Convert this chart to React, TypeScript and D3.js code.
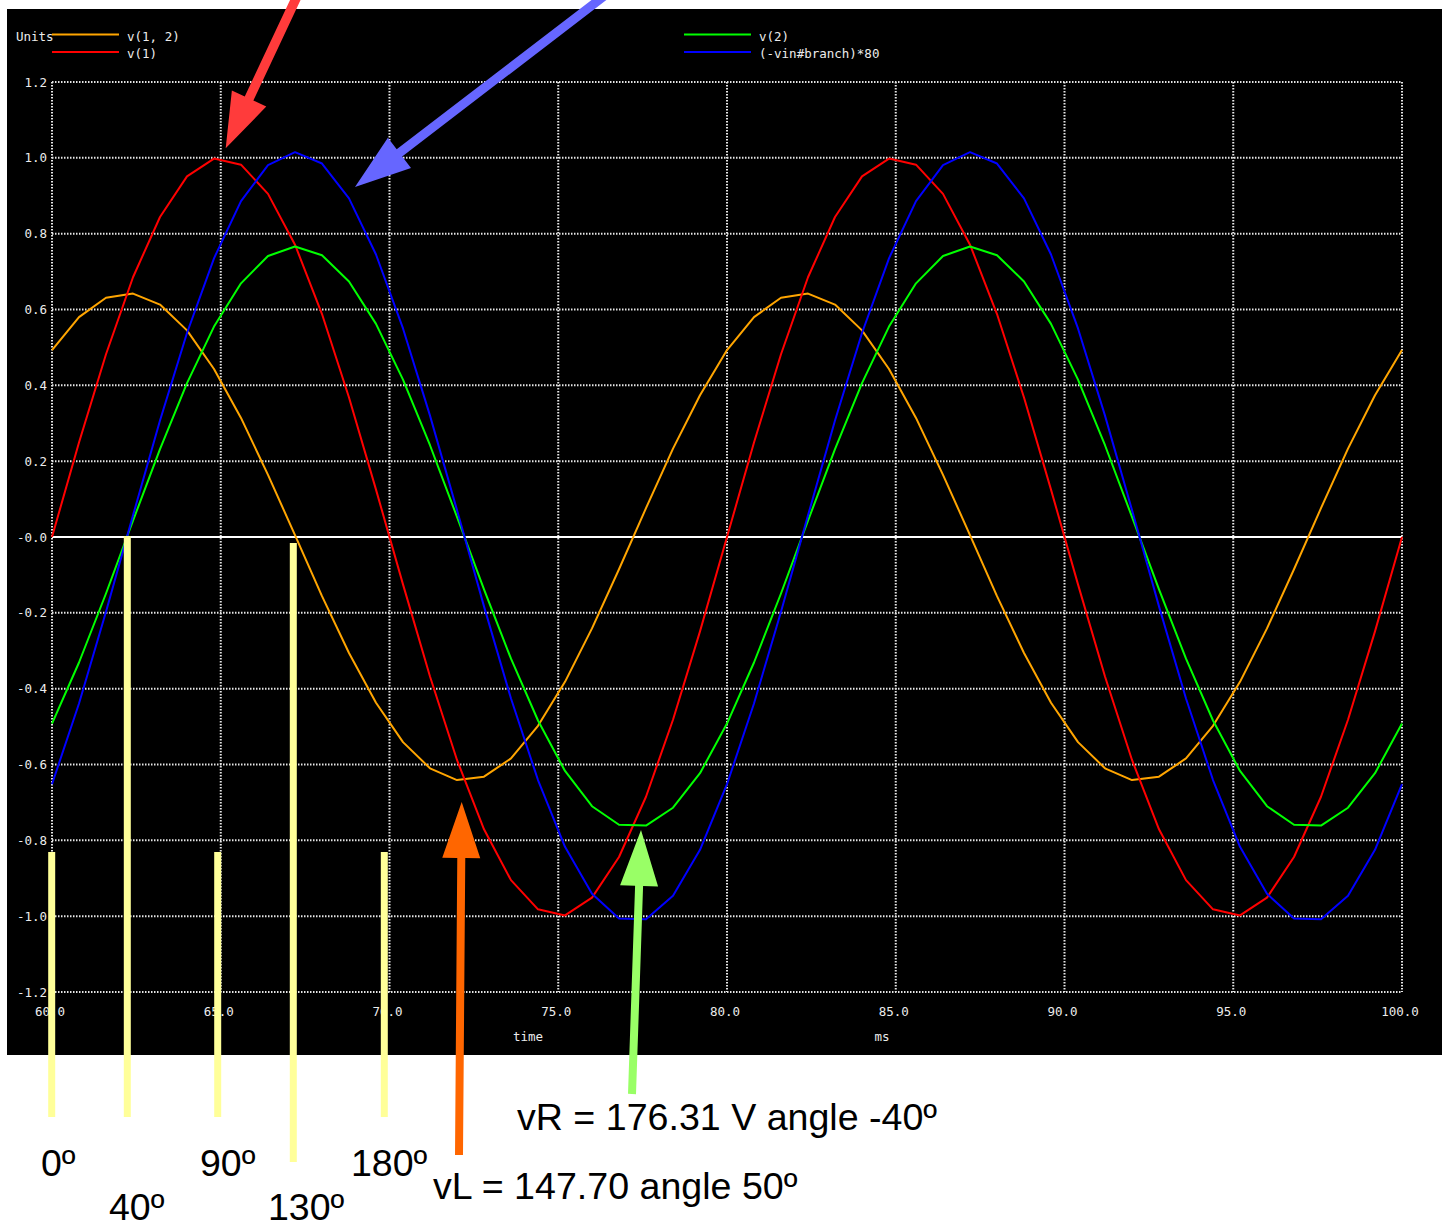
import React from 'react';
import * as d3 from 'd3';

// ---------- data ----------
const timeMs = [
  60.0, 60.8, 61.6, 62.4, 63.2, 64.0, 64.8, 65.6, 66.4, 67.2, 68.0, 68.8, 69.6, 70.4, 71.2, 72.0, 72.8,
  73.6, 74.4, 75.2, 76.0, 76.8, 77.6, 78.4, 79.2, 80.0, 80.8, 81.6, 82.4, 83.2, 84.0, 84.8, 85.6,
  86.4, 87.2, 88.0, 88.8, 89.6, 90.4, 91.2, 92.0, 92.8, 93.6, 94.4, 95.2, 96.0, 96.8, 97.6, 98.4,
  99.2, 100.0,
];

const v12 = [
  0.493, 0.580, 0.631, 0.642, 0.613, 0.545, 0.443, 0.314, 0.164, 0.005, -0.156, -0.306, -0.437,
  -0.541, -0.610, -0.641, -0.632, -0.584, -0.498, -0.382, -0.241, -0.085, 0.076, 0.233, 0.374,
  0.493, 0.580, 0.631, 0.642, 0.613, 0.545, 0.443, 0.314, 0.164, 0.005, -0.156, -0.306, -0.437,
  -0.541, -0.610, -0.641, -0.632, -0.584, -0.498, -0.382, -0.241, -0.085, 0.076, 0.233, 0.374,
  0.493,
];

const v1 = [
  0.0, 0.249, 0.482, 0.685, 0.844, 0.951, 0.998, 0.982, 0.905, 0.771, 0.588, 0.368, 0.125,
  -0.125, -0.368, -0.588, -0.771, -0.905, -0.982, -0.998, -0.951, -0.844, -0.685, -0.482, -0.249,
  0.0, 0.249, 0.482, 0.685, 0.844, 0.951, 0.998, 0.982, 0.905, 0.771, 0.588, 0.368, 0.125,
  -0.125, -0.368, -0.588, -0.771, -0.905, -0.982, -0.998, -0.951, -0.844, -0.685, -0.482, -0.249,
  0.0,
];

const v2 = [
  -0.492, -0.331, -0.149, 0.043, 0.232, 0.406, 0.555, 0.669, 0.741, 0.766, 0.743, 0.674, 0.562,
  0.415, 0.242, 0.053, -0.138, -0.321, -0.484, -0.617, -0.710, -0.759, -0.761, -0.714, -0.623,
  -0.492, -0.331, -0.149, 0.043, 0.232, 0.406, 0.555, 0.669, 0.741, 0.766, 0.743, 0.674, 0.562,
  0.415, 0.242, 0.053, -0.138, -0.321, -0.484, -0.617, -0.710, -0.759, -0.761, -0.714, -0.623,
  -0.492,
];

const iBranch80 = [
  -0.652, -0.439, -0.197, 0.057, 0.307, 0.538, 0.735, 0.886, 0.981, 1.015, 0.985, 0.893, 0.745,
  0.550, 0.320, 0.071, -0.183, -0.426, -0.641, -0.817, -0.941, -1.006, -1.008, -0.946, -0.825,
  -0.652, -0.439, -0.197, 0.057, 0.307, 0.538, 0.735, 0.886, 0.981, 1.015, 0.985, 0.893, 0.745,
  0.550, 0.320, 0.071, -0.183, -0.426, -0.641, -0.817, -0.941, -1.006, -1.008, -0.946, -0.825,
  -0.652,
];

const seriesNames = ['v(1, 2)', 'v(1)', 'v(2)', '(-vin#branch)*80'];
const seriesColors = ['#ffa500', '#ff0000', '#00ff00', '#0000ff'];
const seriesValues = [v12, v1, v2, iBranch80];

const xTicks = [60, 65, 70, 75, 80, 85, 90, 95, 100];
const xTickLabels = ['60.0', '65.0', '70.0', '75.0', '80.0', '85.0', '90.0', '95.0', '100.0'];
const yTicks = [1.2, 1.0, 0.8, 0.6, 0.4, 0.2, 0, -0.2, -0.4, -0.6, -0.8, -1.0, -1.2];
const yTickLabels = ['1.2', '1.0', '0.8', '0.6', '0.4', '0.2', '-0.0', '-0.2', '-0.4', '-0.6', '-0.8', '-1.0', '-1.2'];

const degreeLabels = ['0º', '40º', '90º', '130º', '180º'];
const phasorTexts = ['vR = 176.31 V angle -40º', 'vL = 147.70 angle 50º'];

// ---------- layout ----------
const W = 1447;
const H = 1228;
const bg = { x0: 7, y0: 9, x1: 1442, y1: 1055 };
const plot = { left: 52, right: 1402, top: 82, bottom: 992 };
const mono = '"DejaVu Sans Mono", "Liberation Mono", monospace';
const sans = '"Liberation Sans", Arial, sans-serif';
const gridColor = '#e6e6e6';
const labelColor = '#ececec';

function arrowPath(tail: [number, number], tip: [number, number], shaftW: number, headLen: number, headHalf: number) {
  const dx = tip[0] - tail[0];
  const dy = tip[1] - tail[1];
  const len = Math.hypot(dx, dy);
  const ux = dx / len;
  const uy = dy / len;
  const px = -uy;
  const py = ux;
  const bx = tip[0] - ux * headLen;
  const by = tip[1] - uy * headLen;
  const s = shaftW / 2;
  const pts: [number, number][] = [
    [tail[0] + px * s, tail[1] + py * s],
    [bx + px * s, by + py * s],
    [bx + px * headHalf, by + py * headHalf],
    [tip[0], tip[1]],
    [bx - px * headHalf, by - py * headHalf],
    [bx - px * s, by - py * s],
    [tail[0] - px * s, tail[1] - py * s],
  ];
  return 'M' + pts.map((p) => p.join(',')).join('L') + 'Z';
}

export default function App() {
  const x = d3.scaleLinear().domain([60, 100]).range([plot.left, plot.right]);
  const y = d3.scaleLinear().domain([-1.2, 1.2]).range([plot.bottom, plot.top]);

  const line = d3
    .line<number>()
    .x((_, i) => x(timeMs[i]))
    .y((d) => y(d));

  const yellowBars = [
    { cx: 51.7, top: 852, bottom: 1117 },
    { cx: 127.3, top: 536, bottom: 1117 },
    { cx: 217.7, top: 852, bottom: 1117 },
    { cx: 293.3, top: 543, bottom: 1162 },
    { cx: 384.3, top: 852, bottom: 1117 },
  ];
  const degreePos = [
    { x: 41, y: 1176 },
    { x: 109, y: 1220 },
    { x: 200, y: 1176 },
    { x: 268, y: 1220 },
    { x: 351, y: 1176 },
  ];

  return (
    <svg
      width={W}
      height={H}
      style={{ position: 'absolute', left: 0, top: 0, background: '#ffffff' }}
    >
      <rect x={0} y={0} width={W} height={H} fill="#ffffff" />
      <rect x={bg.x0} y={bg.y0} width={bg.x1 - bg.x0} height={bg.y1 - bg.y0} fill="#000000" />

      {/* grid */}
      {yTicks.map((t, i) => (
        <line
          key={'gy' + i}
          x1={plot.left}
          x2={plot.right}
          y1={y(t)}
          y2={y(t)}
          stroke={gridColor}
          strokeWidth={2}
          strokeDasharray="1.5 1.5"
        />
      ))}
      {xTicks.map((t, i) => (
        <line
          key={'gx' + i}
          x1={x(t)}
          x2={x(t)}
          y1={plot.top}
          y2={plot.bottom}
          stroke={gridColor}
          strokeWidth={2}
          strokeDasharray="1.5 1.5"
        />
      ))}
      {/* zero line */}
      <line x1={plot.left} x2={plot.right} y1={y(0)} y2={y(0)} stroke="#ffffff" strokeWidth={2} />

      {/* tick labels */}
      {yTicks.map((t, i) => (
        <text
          key={'ly' + i}
          x={47}
          y={y(t) + 4.5}
          textAnchor="end"
          fontFamily={mono}
          fontSize={12.5}
          fill={labelColor}
        >
          {yTickLabels[i]}
        </text>
      ))}
      {xTicks.map((t, i) => (
        <text
          key={'lx' + i}
          x={x(t) - 2}
          y={1016}
          textAnchor="middle"
          fontFamily={mono}
          fontSize={12.5}
          fill={labelColor}
        >
          {xTickLabels[i]}
        </text>
      ))}
      <text x={528} y={1041} textAnchor="middle" fontFamily={mono} fontSize={12.5} fill={labelColor}>
        time
      </text>
      <text x={882} y={1041} textAnchor="middle" fontFamily={mono} fontSize={12.5} fill={labelColor}>
        ms
      </text>

      {/* legend */}
      <text x={16} y={41} fontFamily={mono} fontSize={12.5} fill={labelColor}>
        Units
      </text>
      {seriesNames.map((name, i) => {
        const lx = i < 2 ? 52 : 684;
        const ly = i % 2 === 0 ? 34.5 : 52;
        return (
          <g key={'lg' + i}>
            <line x1={lx} x2={lx + 67} y1={ly} y2={ly} stroke={seriesColors[i]} strokeWidth={2} />
            <text x={lx + 75} y={ly + 6} fontFamily={mono} fontSize={12.5} fill={labelColor}>
              {name}
            </text>
          </g>
        );
      })}

      {/* curves */}
      {seriesValues.map((vals, i) => (
        <path
          key={'s' + i}
          d={line(vals) || ''}
          fill="none"
          stroke={seriesColors[i]}
          strokeWidth={2}
          strokeLinejoin="round"
        />
      ))}

      {/* annotations */}
      {yellowBars.map((b, i) => (
        <rect key={'yb' + i} x={b.cx - 3.5} y={b.top} width={7} height={b.bottom - b.top} fill="#ffff99" />
      ))}
      <path d={arrowPath([300, -10], [225.7, 148.3], 9.5, 55, 19)} fill="#ff3b3b" />
      <path d={arrowPath([612, -10], [355, 187], 9, 56, 19)} fill="#6666ff" />
      <path d={arrowPath([459, 1155], [461.7, 802], 8, 56, 19)} fill="#ff6600" />
      <path d={arrowPath([632, 1094], [641, 830], 8, 56, 19)} fill="#99ff66" />

      {degreeLabels.map((t, i) => (
        <text key={'dl' + i} x={degreePos[i].x} y={degreePos[i].y} fontFamily={sans} fontSize={37.5} fill="#000000">
          {t}
        </text>
      ))}
      <text x={517} y={1130} fontFamily={sans} fontSize={37.6} fill="#000000">
        {phasorTexts[0]}
      </text>
      <text x={433} y={1199} fontFamily={sans} fontSize={37.6} fill="#000000">
        {phasorTexts[1]}
      </text>
    </svg>
  );
}
